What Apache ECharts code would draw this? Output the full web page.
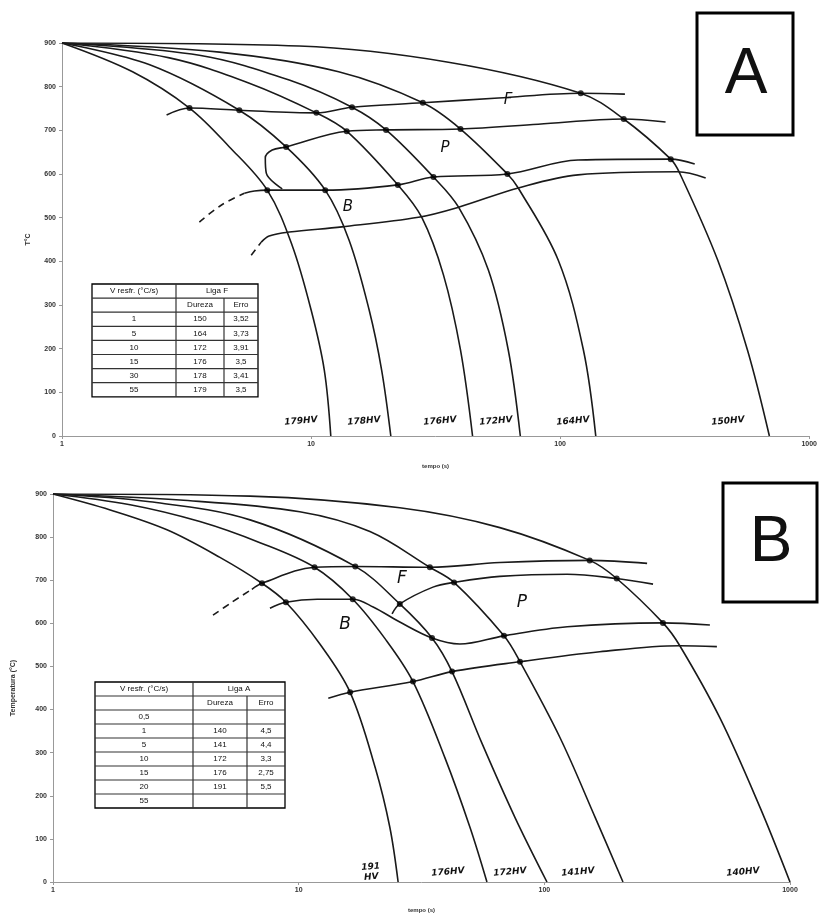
<!DOCTYPE html>
<html><head><meta charset="utf-8">
<script src="https://cdn.jsdelivr.net/npm/echarts@6/dist/echarts.min.js"></script>
<style>html,body{margin:0;padding:0;background:#fff}#c{width:820px;height:914px}</style>
</head><body><div id="c"></div>
<script>
// ---------- Panel A (Liga F): cooling curves [tempo (s), T (°C)] ----------
const coolA_179 = [[1,900],[1.92,834],[3.25,751],[4.70,662],[6.67,563],[8.39,437],[10.0,289],[11.3,151],[12.0,0]];
const coolA_178 = [[1,900],[2.25,850],[5.15,746],[7.94,662],[11.4,563],[14.2,449],[17.1,289],[19.2,151],[20.9,0]];
const coolA_176 = [[1,900],[2.70,866],[5.65,808],[10.5,740],[13.9,698],[22.3,575],[27.8,501],[34.0,369],[39.8,197],[44.5,0]];
const coolA_172 = [[1,900],[3.56,872],[8.17,815],[14.6,753],[20.0,701],[31.0,593],[39.1,524],[51.5,380],[61.9,197],[69.2,0]];
const coolA_164 = [[1,900],[4.29,879],[12.9,834],[28.1,763],[39.8,703],[61.4,600],[67.9,568],[98.2,403],[124,197],[139,0]];
const coolA_150 = [[1,900],[8.95,893],[35.6,856],[121,785],[180,726],[278,634],[302,602],[429,403],[565,197],[692,0]];
// transformation lines A
const ferA = [[2.63,735],[3.25,751],[5.15,746],[10.5,740],[14.6,753],[28.1,763],[56.5,774],[121,785],[182,783]];
const pearA = [[7.66,566],[6.61,602],[6.55,637],[6.98,655],[7.94,662],[13.9,698],[20.0,701],[39.8,703],[81.7,714],[180,726],[265,719]];
const bainA_dash = [[3.56,490],[4.37,529],[5.40,556]];
const bainA = [[5.40,556],[5.92,561],[6.67,563],[11.4,563],[22.3,575],[31.0,593],[61.4,600],[118,632],[278,634],[347,623]];
const lowA_dash = [[5.75,414],[6.31,444]];
const lowA = [[6.31,444],[6.79,458],[8.17,467],[13.3,479],[27.0,501],[39.1,524],[67.9,568],[118,598],[297,605],[384,591]];
const dotsA = [[3.25,751],[5.15,746],[10.5,740],[14.6,753],[28.1,763],[121,785],[7.94,662],[13.9,698],[20.0,701],[39.8,703],[180,726],
               [6.67,563],[11.4,563],[22.3,575],[31.0,593],[61.4,600],[278,634]];
const hvA = ['179HV','178HV','176HV','172HV','164HV','150HV'];

// ---------- Panel B (Liga A) ----------
const coolB_191 = [[1,900],[1.71,863],[2.91,817],[4.78,753],[7.09,693],[8.87,649],[12.2,552],[16.2,440],[20.5,265],[23.5,127],[25.4,0]];
const coolB_176 = [[1,900],[2.06,875],[3.96,836],[6.96,787],[11.6,730],[16.6,656],[22.5,564],[29.2,465],[39.4,288],[49.8,127],[58.4,0]];
const coolB_172 = [[1,900],[2.48,882],[6.34,840],[17.0,732],[25.8,645],[34.9,566],[42.1,488],[55.7,322],[75.9,150],[102.5,0]];
const coolB_141 = [[1,900],[3.29,886],[10.1,859],[19.5,813],[34.2,730],[42.9,695],[68.5,571],[79.6,511],[116,334],[161,150],[209,0]];
const coolB_140 = [[1,900],[6.34,895],[25.8,868],[65.9,822],[153,746],[197,704],[304,601],[356,548],[519,380],[755,173],[1000,0]];
const ferB_dash = [[4.48,619],[5.35,649],[6.45,679]];
const ferB = [[6.45,679],[7.09,693],[11.6,730],[17.0,732],[34.2,730],[65.9,741],[153,746],[262,739]];
const pearB = [[24.0,622],[25.8,645],[35.2,684],[42.9,695],[65.9,709],[124,714],[197,704],[277,691]];
const bainB = [[7.64,635],[8.87,649],[11.9,656],[16.6,656],[20.1,638],[25.8,603],[34.9,566],[45.3,552],[68.5,571],[124,592],[304,601],[472,596]];
const lowB = [[13.2,426],[16.2,440],[29.2,465],[42.1,488],[79.6,511],[168,534],[356,548],[504,546]];
const dotsB = [[7.09,693],[8.87,649],[11.6,730],[17.0,732],[16.6,656],[34.2,730],[25.8,645],[42.9,695],[34.9,566],[68.5,571],[79.6,511],
               [153,746],[197,704],[304,601],[29.2,465],[42.1,488],[16.2,440]];
const hvB = ['191\nHV','176HV','172HV','141HV','140HV'];

// ---------- Tables ----------
const tabA_head = ['V resfr. (°C/s)','Liga F'];
const tabA_sub = ['Dureza','Erro'];
const tabA_rate = ['1','5','10','15','30','55'];
const tabA_hard = ['150','164','172','176','178','179'];
const tabA_err  = ['3,52','3,73','3,91','3,5','3,41','3,5'];
const tabB_head = ['V resfr. (°C/s)','Liga A'];
const tabB_sub = ['Dureza','Erro'];
const tabB_rate = ['0,5','1','5','10','15','20','55'];
const tabB_hard = ['','140','141','172','176','191',''];
const tabB_err  = ['','4,5','4,4','3,3','2,75','5,5',''];

const yTicks = [0,100,200,300,400,500,600,700,800,900];
const xTicks = [1,10,100,1000];

// ---------- build ----------
const INK = '#1a1a1a';
function ln(data, g, dashed){
  return {type:'line', xAxisIndex:g, yAxisIndex:g, data, smooth:0.35, symbol:'none', showSymbol:false,
    lineStyle:{color:INK, width:1.6, type: dashed ? [7,5] : 'solid'}, silent:true, z:2};
}
function dots(data, g){
  return {type:'scatter', xAxisIndex:g, yAxisIndex:g, data, symbolSize:6, itemStyle:{color:'#000'}, silent:true, z:3};
}
const series = [
  ln(coolA_179,0),ln(coolA_178,0),ln(coolA_176,0),ln(coolA_172,0),ln(coolA_164,0),ln(coolA_150,0),
  ln(ferA,0),ln(pearA,0),ln(bainA_dash,0,true),ln(bainA,0),ln(lowA_dash,0,true),ln(lowA,0),dots(dotsA,0),
  ln(coolB_191,1),ln(coolB_176,1),ln(coolB_172,1),ln(coolB_141,1),ln(coolB_140,1),
  ln(ferB_dash,1,true),ln(ferB,1),ln(pearB,1),ln(bainB,1),ln(lowB,1),dots(dotsB,1)
];

function xAx(g, gap){
  return {gridIndex:g, type:'log', logBase:10, min:1, max:1000,
    axisLine:{lineStyle:{color:'#999', width:1}}, axisTick:{show:true, length:3, lineStyle:{color:'#999'}},
    minorTick:{show:false}, splitLine:{show:false},
    axisLabel:{fontSize:7, color:'#333', fontWeight:'bold', margin:5, fontFamily:'Liberation Sans',
      formatter: v => { const r = Math.round(v); return xTicks.includes(r) ? String(r) : ''; }},
    name:'tempo (s)', nameLocation:'middle', nameGap:gap, nameTextStyle:{fontSize:6, color:'#333', fontWeight:'bold'}};
}
function yAx(g, name, gap){
  return {gridIndex:g, type:'value', min:0, max:900, interval:100,
    axisLine:{show:true, lineStyle:{color:'#999', width:1}}, axisTick:{show:true, length:3, lineStyle:{color:'#999'}},
    splitLine:{show:false},
    axisLabel:{fontSize:7, color:'#333', fontWeight:'bold', margin:6, fontFamily:'Liberation Sans',
      formatter: v => yTicks.includes(v) ? String(v) : ''},
    name, nameLocation:'middle', nameRotate:90, nameGap:gap, nameTextStyle:{fontSize:7, color:'#333', fontWeight:'bold'}};
}

// graphic helpers
const G = [];
function txt(x, y, s, size, opt){
  opt = opt || {};
  G.push({type:'text', x, y, rotation: opt.rot || 0, z:10, silent:true,
    style:{text:s, fontSize:size, fontFamily: opt.family || 'Liberation Sans', fontStyle: opt.italic ? 'italic' : 'normal',
      fontWeight: opt.bold ? 'bold' : 'normal', fill: opt.color || '#111',
      align:'center', verticalAlign:'middle', textAlign:'center', textVerticalAlign:'middle', lineHeight: size+1}});
}
function seg(x1,y1,x2,y2,w){
  G.push({type:'line', z:10, silent:true, shape:{x1,y1,x2,y2}, style:{stroke:'#333', lineWidth:w||1.2}});
}
function box(x,y,w,h,lw){
  G.push({type:'rect', z:10, silent:true, shape:{x,y,width:w,height:h}, style:{fill:'#fff', stroke:'#000', lineWidth:lw}});
}
function table(cols, top, rh, head, sub, c1, c2, c3){
  const n = c1.length, bottom = top + rh*(2+n);
  box(cols[0], top, cols[3]-cols[0], bottom-top, 1.3);
  for (let i=1;i<2+n;i++) seg(cols[0], top+rh*i, cols[3], top+rh*i);
  seg(cols[1], top, cols[1], bottom);
  seg(cols[2], top+rh, cols[2], bottom);
  const m0=(cols[0]+cols[1])/2, m1=(cols[1]+cols[2])/2, m2=(cols[2]+cols[3])/2, mh=(cols[1]+cols[3])/2;
  txt(m0, top+rh/2, head[0], 8); txt(mh, top+rh/2, head[1], 8);
  txt(m1, top+rh*1.5, sub[0], 8); txt(m2, top+rh*1.5, sub[1], 8);
  for (let i=0;i<n;i++){
    const y = top + rh*(2.5+i);
    txt(m0, y, c1[i], 8); txt(m1, y, c2[i], 8); txt(m2, y, c3[i], 8);
  }
}
table([92,176,224,258], 284, 14.1, tabA_head, tabA_sub, tabA_rate, tabA_hard, tabA_err);
table([95,193,247,285], 682, 14, tabB_head, tabB_sub, tabB_rate, tabB_hard, tabB_err);

// panel letters
box(697,13,96,122,3); txt(746,75,'A',64);
box(723,483,94,119,3); txt(771,543,'B',64);

// hardness labels
const hvAx = [301,364,440,496,573,728];
hvA.forEach((s,i)=>txt(hvAx[i], 421, s, 9, {italic:true, bold:true, rot:0.08, family:'DejaVu Sans'}));
const hvBx = [371,448,510,578,743];
hvB.forEach((s,i)=>txt(hvBx[i], 872, s, 9, {italic:true, bold:true, rot:0.08, family:'DejaVu Sans'}));

// region letters
txt(508,100,'F',15,{italic:true, family:'DejaVu Sans'});
txt(445,148,'P',15,{italic:true, family:'DejaVu Sans'});
txt(348,207,'B',15,{italic:true, family:'DejaVu Sans'});
txt(402,579,'F',17,{italic:true, family:'DejaVu Sans'});
txt(522,603,'P',17,{italic:true, family:'DejaVu Sans'});
txt(345,625,'B',17,{italic:true, family:'DejaVu Sans'});

const chart = echarts.init(document.getElementById('c'), null, {renderer:'canvas'});
chart.setOption({
  animation:false,
  backgroundColor:'#fff',
  grid:[{left:62, right:8, top:43, height:393}, {left:53, right:30, top:494, height:391}],
  xAxis:[xAx(0,27), xAx(1,25)],
  yAxis:[yAx(0,'T°C',30), yAx(1,'Temperatura (°C)',36)],
  series,
  graphic:G
});
</script></body></html>
